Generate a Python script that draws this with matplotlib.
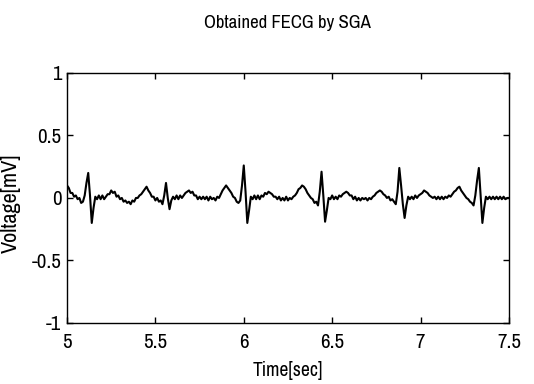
import numpy as np
import matplotlib
matplotlib.use('Agg')
import matplotlib.pyplot as plt

# sample times (0.01 s step) and voltages
time_start = 5.0
time_step = 0.01
voltage = [
    0.10, 0.08, 0.04, 0.04, 0.01, 0.02, -0.01, 0.00, -0.04, -0.03,   # 5.0
    0.02, 0.12, 0.20, 0.02, -0.20, -0.08, 0.01, -0.01, 0.02, -0.01,  # 5.1
    0.02, -0.01, 0.01, 0.03, 0.03, 0.06, 0.04, 0.05, 0.01, 0.02,     # 5.2
    -0.01, 0.00, -0.03, -0.02, -0.04, -0.03, -0.05, -0.02, -0.03, 0.00,  # 5.3
    0.00, 0.02, 0.03, 0.05, 0.07, 0.09, 0.06, 0.04, 0.01, 0.01,      # 5.4
    -0.02, 0.00, -0.03, -0.02, -0.05, 0.02, 0.12, 0.00, -0.09, -0.02,  # 5.5
    0.01, -0.01, 0.02, -0.01, 0.02, 0.00, 0.02, 0.04, 0.05, 0.06,    # 5.6
    0.04, 0.05, 0.02, 0.02, -0.01, 0.01, -0.01, 0.01, -0.01, 0.01,   # 5.7
    -0.02, 0.01, -0.01, 0.00, -0.02, 0.01, 0.00, 0.03, 0.06, 0.08,   # 5.8
    0.10, 0.08, 0.06, 0.04, 0.01, 0.00, -0.03, -0.04, -0.02, 0.10,   # 5.9
    0.26, 0.05, -0.20, -0.10, 0.01, -0.01, 0.02, -0.01, 0.02, -0.01,  # 6.0
    0.02, 0.01, 0.04, 0.03, 0.05, 0.04, 0.03, 0.01, 0.01, -0.01,     # 6.1
    0.01, -0.02, 0.00, -0.02, 0.01, -0.02, 0.00, -0.01, 0.01, 0.02,  # 6.2
    0.04, 0.07, 0.08, 0.10, 0.09, 0.07, 0.04, 0.02, 0.00, -0.01,     # 6.3
    -0.04, -0.03, -0.06, 0.05, 0.21, 0.02, -0.19, -0.10, 0.00, -0.01,  # 6.4
    0.02, -0.01, 0.01, -0.01, 0.02, 0.01, 0.03, 0.04, 0.05, 0.04,    # 6.5
    0.02, 0.02, -0.01, 0.01, -0.02, 0.00, -0.02, 0.00, -0.01, 0.00,  # 6.6
    -0.02, 0.00, -0.01, 0.01, 0.02, 0.04, 0.05, 0.06, 0.05, 0.03,    # 6.7
    0.02, 0.00, 0.01, -0.02, -0.01, -0.03, -0.05, 0.05, 0.24, 0.10,  # 6.8
    -0.05, -0.16, -0.06, 0.01, -0.01, 0.01, -0.01, 0.02, 0.00, 0.02,  # 6.9
    0.03, 0.04, 0.06, 0.05, 0.04, 0.02, 0.01, 0.00, 0.01, -0.01,     # 7.0
    0.01, -0.01, 0.01, -0.01, 0.01, 0.00, 0.02, 0.01, 0.03, 0.05,    # 7.1
    0.06, 0.08, 0.09, 0.06, 0.04, 0.02, 0.00, -0.01, -0.03, -0.04,   # 7.2
    -0.06, 0.02, 0.14, 0.24, 0.02, -0.20, -0.08, 0.01, -0.01, 0.01,  # 7.3
    -0.01, 0.01, -0.01, 0.01, -0.01, 0.01, -0.01, 0.01, -0.01, 0.00,  # 7.4
    0.00,                                                             # 7.5
]
x_ticks = [5, 5.5, 6, 6.5, 7, 7.5]
x_tick_labels = ['5', '5.5', '6', '6.5', '7', '7.5']
y_ticks = [-1, -0.5, 0, 0.5, 1]
y_tick_labels = ['-1', '-0.5', '0', '0.5', '1']

# narrow face like the MATLAB export, DejaVu as fallback
plt.rcParams['font.family'] = ['Archivo Narrow', 'DejaVu Sans']

time = time_start + time_step * np.arange(len(voltage))

fig = plt.figure(figsize=(5.34, 3.84), dpi=100)
ax = fig.add_axes([0.1255, 0.159, 0.8275, 0.651])

ax.plot(time, voltage, color='black', linewidth=1.5)

ax.set_xlim(5, 7.5)
ax.set_ylim(-1, 1)
ax.set_xticks(x_ticks)
ax.set_xticklabels(x_tick_labels)
ax.set_yticks(y_ticks)
ax.set_yticklabels(y_tick_labels)
ax.tick_params(direction='in', top=True, right=True, length=4, width=1,
               labelsize=15)
ax.tick_params(axis='x', pad=7)
ax.tick_params(axis='y', pad=4)
for spine in ax.spines.values():
    spine.set_linewidth(1)

ax.set_xlabel('Time[sec]', fontsize=14, va='center')
ax.xaxis.set_label_coords(0.5, -0.19)
ax.set_ylabel('Voltage[mV]', fontsize=16, va='center')
ax.yaxis.set_label_coords(-0.127, 0.48)
fig.text(0.538, 0.94, 'Obtained FECG by SGA', fontsize=13.5, ha='center', va='center')

fig.savefig('out.png', dpi=100)
